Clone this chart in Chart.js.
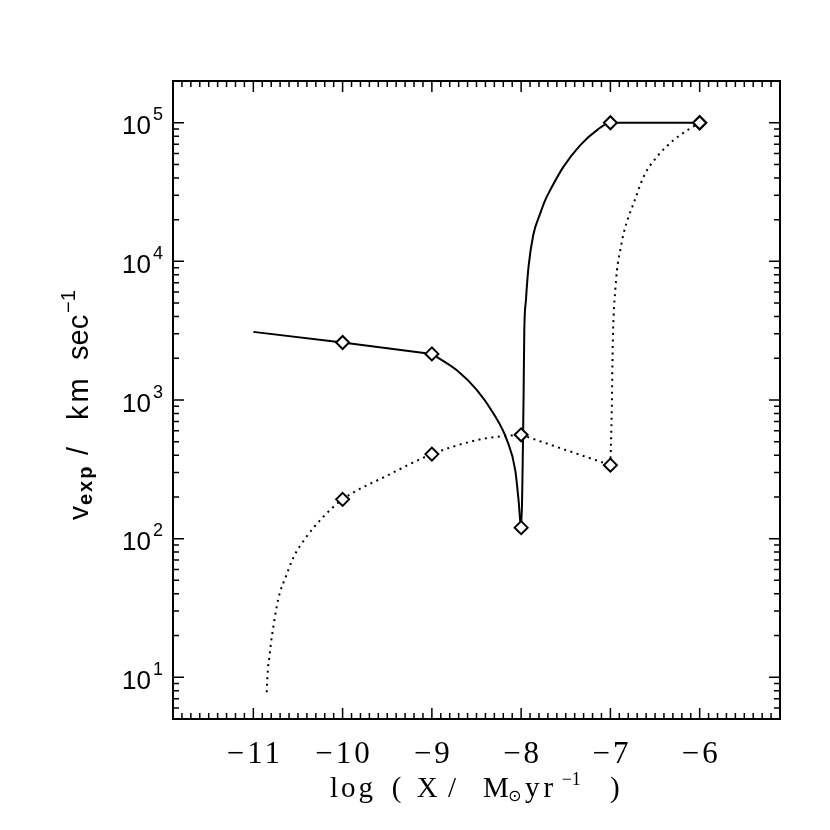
<!DOCTYPE html>
<html>
<head>
<meta charset="utf-8">
<script src="https://cdn.jsdelivr.net/npm/chart.js@4.4.1/dist/chart.umd.min.js"></script>
<style>
  html, body { margin: 0; padding: 0; background: #fff; }
  #wrap { width: 830px; height: 830px; }
</style>
</head>
<body>
<div id="wrap"><canvas id="grafico" width="830" height="830"></canvas></div>
<script>
// valores (log X, v en km/s)
// curva solida: tramo recto y tramo curvo
const solidAX = [-11.0, -10.0, -9.0];
const solidAV = [3100, 2600, 2150];
const solidBX = [-9.0, -8.72, -8.495, -8.31, -8.159, -8.066, -8.029, -8.0,
  -7.973, -7.965, -7.946, -7.917, -7.864, -7.786, -7.73, -7.674, -7.525, -7.337, -7.15, -7.0, -6.0];
const solidBV = [2150, 1640, 1180, 800, 514, 312, 190, 120,
  1000, 3040, 5260, 9150, 15500, 22200, 27700, 32700, 48200, 69000, 88500, 100000, 100000];

// curva punteada
const dottedAX = [-10.85, -10.838, -10.82, -10.801, -10.776, -10.737, -10.70, -10.644, -10.551, -10.42, -10.215,
  -10.0, -9.5, -9.0, -8.495, -8.271, -8.0];
const dottedAV = [7.8, 11.2, 14.0, 18.0, 23.1, 32.6, 41.3, 51.6, 73.1, 100, 144,
  192, 285, 407, 514, 543, 561];
const dottedBX = [-8.0, -7.0];
const dottedBV = [561, 339];
const dottedCX = [-7.0, -6.982, -6.975, -6.964, -6.945, -6.926, -6.889, -6.852, -6.796, -6.74, -6.628, -6.477, -6.291, -6.104, -6.0];
const dottedCV = [339, 1055, 2290, 3985, 6210, 8650, 12080, 15920, 20990, 26200, 40800, 56900, 75000, 91200, 100000];

// diamantes
const markX = [-10, -9, -8, -7, -6];
const solidMarkV = [2600, 2150, 120, 100000, 100000];
const dottedMarkV = [192, 407, 561, 339, 100000];

// etiquetas de ejes
const xTickLabels = [-11, -10, -9, -8, -7, -6];
const yTickExps = [1, 2, 3, 4, 5];

const toXY = (xs, ys) => xs.map((x, i) => ({ x: x, y: ys[i] }));

function drawRuns(ctx, x0, y0, parts) {
  parts.forEach(p => {
    ctx.font = p.font;
    ctx.letterSpacing = p.sp || '0px';
    ctx.fillText(p.t, x0 + p.at, y0 + (p.dy || 0));
  });
  ctx.letterSpacing = '0px';
}

const marcoIDL = {
  id: 'marcoIDL',
  afterDatasetsDraw(chart) {
    const { ctx, chartArea: a, scales: { x, y } } = chart;
    ctx.save();
    ctx.strokeStyle = '#000';
    ctx.fillStyle = '#000';

    // ticks hacia dentro en los cuatro lados
    ctx.lineWidth = 1.5;
    ctx.beginPath();
    for (let i = -119; i <= -51; i++) {
      const px = x.getPixelForValue(i / 10);
      const len = (i % 10 === 0) ? 11 : 6;
      ctx.moveTo(px, a.bottom); ctx.lineTo(px, a.bottom - len);
      ctx.moveTo(px, a.top); ctx.lineTo(px, a.top + len);
    }
    for (let e = 0; e <= 5; e++) {
      for (let m = 1; m <= 9; m++) {
        const v = m * Math.pow(10, e);
        if (v <= 5 || v >= 2e5) continue;
        const py = y.getPixelForValue(v);
        const len = (m === 1) ? 11 : 6;
        ctx.moveTo(a.left, py); ctx.lineTo(a.left + len, py);
        ctx.moveTo(a.right, py); ctx.lineTo(a.right - len, py);
      }
    }
    ctx.stroke();

    ctx.lineWidth = 2;
    ctx.strokeRect(a.left, a.top, a.right - a.left, a.bottom - a.top);

    // etiquetas eje x
    ctx.textAlign = 'left';
    ctx.textBaseline = 'alphabetic';
    ctx.font = '31px "Liberation Serif"';
    ctx.letterSpacing = '3px';
    xTickLabels.forEach(v => {
      const txt = '\u2212' + Math.abs(v);
      const w = ctx.measureText(txt).width - 3;
      ctx.fillText(txt, x.getPixelForValue(v) - w / 2, 763);
    });
    ctx.letterSpacing = '0px';

    // etiquetas eje y: 10^n
    yTickExps.forEach(e => {
      const py = y.getPixelForValue(Math.pow(10, e));
      ctx.font = '18px "Liberation Sans"';
      const we = ctx.measureText(String(e)).width;
      ctx.fillText(String(e), a.left - 10 - we, py - 2.3);
      ctx.font = '26px "Liberation Sans"';
      const wb = ctx.measureText('10').width;
      ctx.fillText('10', a.left - 10 - we - 2 - wb, py + 11.7);
    });

    // titulo eje x
    const serif = '29px "Liberation Serif"';
    drawRuns(ctx, 330, 797, [
      { t: 'log', font: serif, sp: '3px', at: 0 },
      { t: '(', font: serif, at: 61.7 },
      { t: 'X', font: serif, at: 86.7 },
      { t: '/', font: serif, at: 118 },
      { t: 'M', font: serif, at: 153 },
      { t: '\u2299', font: '16px "DejaVu Sans"', at: 178, dy: 3.5 },
      { t: 'yr', font: serif, sp: '4px', at: 195 },
      { t: '\u22121', font: '18px "Liberation Serif"', at: 231.7, dy: -12 },
      { t: ')', font: serif, at: 280 }
    ]);

    // titulo eje y (rotado)
    ctx.save();
    ctx.translate(88, (a.top + a.bottom) / 2);
    ctx.rotate(-Math.PI / 2);
    const sans = '29px "Liberation Sans"';
    drawRuns(ctx, -120, 0, [
      { t: 'v', font: '28px "Liberation Sans"', at: 0 },
      { t: 'exp', font: 'bold 20px "Liberation Sans"', sp: '2px', at: 15, dy: 3.5 },
      { t: '/', font: sans, at: 65 },
      { t: 'km', font: sans, sp: '3px', at: 100 },
      { t: 'sec', font: sans, at: 160 },
      { t: '\u22121', font: '20px "Liberation Sans"', at: 207, dy: -13 }
    ]);
    ctx.restore();

    ctx.restore();
  }
};

const ctx = document.getElementById('grafico').getContext('2d');

const marcador = {
  showLine: false,
  pointStyle: 'rectRot',
  pointRadius: 6.5,
  pointBorderWidth: 2,
  pointBackgroundColor: '#fff',
  pointBorderColor: '#000',
  order: 0
};

function linea(label, xs, ys, suave, punteada) {
  return {
    label: label,
    data: toXY(xs, ys),
    showLine: true,
    borderColor: '#000',
    borderWidth: 2,
    borderDash: punteada ? [2, 4.5] : [],
    borderCapStyle: 'butt',
    pointRadius: 0,
    cubicInterpolationMode: suave ? 'monotone' : 'default',
    tension: 0,
    order: 1
  };
}

new Chart(ctx, {
  type: 'scatter',
  data: {
    datasets: [
      Object.assign({ label: 'marcas solida', data: toXY(markX, solidMarkV) }, marcador),
      Object.assign({ label: 'marcas punteada', data: toXY(markX, dottedMarkV) }, marcador),
      linea('solida A', solidAX, solidAV, false, false),
      linea('solida B', solidBX, solidBV, true, false),
      linea('punteada A', dottedAX, dottedAV, true, true),
      linea('punteada B', dottedBX, dottedBV, false, true),
      linea('punteada C', dottedCX, dottedCV, true, true)
    ]
  },
  options: {
    responsive: false,
    animation: false,
    layout: { padding: { left: 173, right: 50, top: 81, bottom: 111 } },
    scales: {
      x: { type: 'linear', min: -11.9, max: -5.1, display: false },
      y: { type: 'logarithmic', min: 5, max: 2e5, display: false }
    },
    plugins: {
      legend: { display: false },
      tooltip: { enabled: false }
    }
  },
  plugins: [marcoIDL]
});
</script>
</body>
</html>
